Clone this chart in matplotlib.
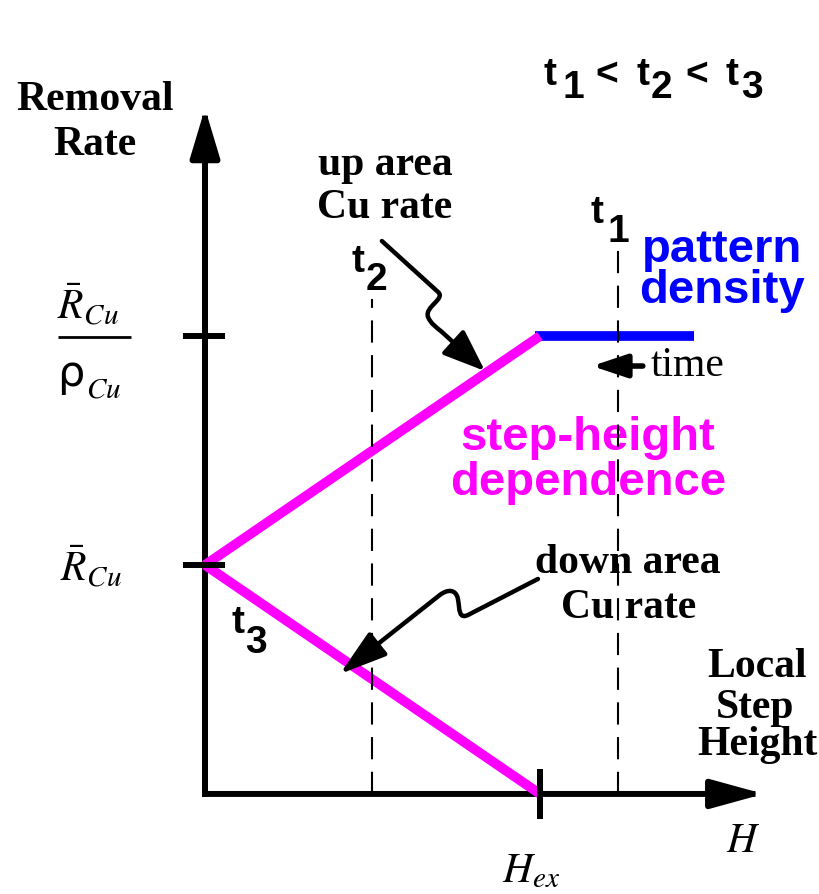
import matplotlib
matplotlib.use("Agg")
import matplotlib.pyplot as plt
from matplotlib.path import Path
from matplotlib.patches import FancyArrowPatch

# Normalised step-height model: H_ex = 1, blanket rate R_Cu = 1
h_ex = 1.0
rate_blanket = 1.0            # \bar R_Cu
rate_up_max = 2.0             # \bar R_Cu / rho_Cu
up_h = [0.0, h_ex]
up_rate = [rate_blanket, rate_up_max]
down_h = [0.0, h_ex]
down_rate = [rate_blanket, 0.0]
pattern_h = [0.985, 1.46]
pattern_rate = [rate_up_max, rate_up_max]
time_marks = ["1", "2"]
time_h = [1.233, 0.5]
time_top = [2.40, 2.16]
rate_ticks = [rate_blanket, rate_up_max]
h_axis_end = 1.668
rate_axis_end = 2.995

MAGENTA = "#FF00FF"
BLUE = "#0000FF"
SERIF = "Liberation Serif"
SANS = "Liberation Sans"
plt.rcParams["mathtext.fontset"] = "stix"
plt.rcParams["lines.scale_dashes"] = False

fig = plt.figure(figsize=(8.19, 8.95), dpi=100)
ax = fig.add_axes([0, 0, 1, 1])
ax.set_xlim(-0.612, 1.833)
ax.set_ylim(-0.437, 3.472)
ax.axis("off")

# axes with arrow heads
ax.annotate("", xy=(0, rate_axis_end), xytext=(0, 0),
            arrowprops=dict(arrowstyle="-|>,head_length=3.0,head_width=0.9",
                            mutation_scale=10, lw=4.3, color="k",
                            shrinkA=0, shrinkB=0, capstyle="projecting"),
            zorder=2)
ax.annotate("", xy=(h_axis_end, 0), xytext=(0, 0),
            arrowprops=dict(arrowstyle="-|>,head_length=3.2,head_width=0.88",
                            mutation_scale=10, lw=4.3, color="k",
                            shrinkA=0, shrinkB=0, capstyle="projecting"),
            zorder=2)

# rate ticks and H_ex tick
for r in rate_ticks:
    ax.plot([-0.066, 0.06], [r, r], color="k", lw=4.3, solid_capstyle="butt", zorder=5)
ax.plot([h_ex, h_ex], [-0.11, 0.11], color="k", lw=4.3, solid_capstyle="butt", zorder=5)

# removal-rate curves
ax.plot(up_h, up_rate, color=MAGENTA, lw=7, solid_capstyle="butt", zorder=3)
ax.plot(down_h, down_rate, color=MAGENTA, lw=7, solid_capstyle="butt", zorder=3)
ax.plot(pattern_h, pattern_rate, color=BLUE, lw=7, solid_capstyle="butt", zorder=2.5)

# time snapshots
for h, top in zip(time_h, time_top):
    ax.plot([h, h], [0, top], color="k", lw=1.5, dashes=(16, 9), zorder=4)


def t_label(x, y, digit, dx=17, dy=18, size=28):
    ax.text(x, y, "t", fontsize=size, fontweight="bold", family=SANS,
            ha="left", va="baseline", zorder=6)
    ax.annotate(digit, xy=(x, y), xytext=(dx, -dy), textcoords="offset pixels",
                fontsize=size, fontweight="bold", family=SANS,
                ha="left", va="baseline", zorder=6)


# t1 < t2 < t3
t_label(1.012, 3.100, "1", dx=19, dy=13)
ax.text(1.165, 3.100, "<", fontsize=28, fontweight="bold", family=SANS, ha="left", va="baseline")
t_label(1.287, 3.100, "2", dx=15, dy=13)
ax.text(1.434, 3.100, "<", fontsize=28, fontweight="bold", family=SANS, ha="left", va="baseline")
t_label(1.555, 3.100, "3", dx=15, dy=13)

t_label(0.436, 2.284, "2", dx=15, dy=18)
t_label(1.152, 2.498, "1", dx=17, dy=19)
t_label(0.078, 0.707, "3", dx=14, dy=20)

# bold serif labels
serif_bold = dict(fontsize=30, fontweight="bold", family=SERIF, ha="center", va="baseline")
ax.text(-0.328, 2.991, "Removal", **serif_bold)
ax.text(-0.328, 2.795, "Rate", **serif_bold)
ax.text(0.537, 2.707, "up area", **serif_bold)
ax.text(0.537, 2.520, "Cu rate", **serif_bold)
ax.text(1.263, 0.969, "down area", **serif_bold)
ax.text(1.266, 0.773, "Cu rate", **serif_bold)
ax.text(1.648, 0.515, "Local", **serif_bold)
ax.text(1.642, 0.336, "Step", **serif_bold)
ax.text(1.648, 0.175, "Height", **serif_bold)

ax.text(1.331, 1.830, "time", fontsize=30, family=SERIF, ha="left", va="baseline")
ax.annotate("", xy=(1.155, 1.869), xytext=(1.307, 1.869),
            arrowprops=dict(arrowstyle="-|>,head_length=2.1,head_width=0.7",
                            mutation_scale=10, lw=4, color="k", shrinkA=0, shrinkB=0))

# coloured sans labels
sans_bold = dict(fontsize=34, fontweight="bold", family=SANS, ha="center", va="baseline")
ax.text(1.543, 2.328, "pattern", color=BLUE, **sans_bold)
ax.text(1.543, 2.150, "density", color=BLUE, **sans_bold)
ax.text(1.143, 1.507, "step-height", color=MAGENTA, **sans_bold)
ax.text(1.143, 1.310, "dependence", color=MAGENTA, **sans_bold)

# rate axis values
ax.text(-0.442, 2.074, r"$\bar{R}_{Cu}$", fontsize=30, ha="left", va="baseline")
ax.plot([-0.439, -0.221], [1.996, 1.996], color="k", lw=2, solid_capstyle="butt")
ax.text(-0.442, 1.786, "ρ", fontsize=31, family="DejaVu Sans", ha="left", va="baseline")
ax.text(-0.355, 1.734, r"$Cu$", fontsize=21, ha="left", va="baseline")
ax.text(-0.433, 0.930, r"$\bar{R}_{Cu}$", fontsize=30, ha="left", va="baseline")

# step-height axis values
ax.text(0.888, -0.380, r"$H_{ex}$", fontsize=30, ha="left", va="baseline")
ax.text(1.556, -0.249, r"$H$", fontsize=30, ha="left", va="baseline")

# wavy pointer arrows
C4, L, M = Path.CURVE4, Path.LINETO, Path.MOVETO
up_path = Path(
    [(0.528, 2.415), (0.696, 2.192),
     (0.719, 2.162), (0.654, 2.127), (0.666, 2.083),
     (0.675, 2.052), (0.690, 2.039), (0.704, 2.022),
     (0.836, 1.847)],
    [M, L, C4, C4, C4, C4, C4, C4, L])
ax.add_patch(FancyArrowPatch(path=up_path,
                             arrowstyle="-|>,head_length=2.6,head_width=1.0",
                             mutation_scale=10, lw=3.2, color="k", zorder=6))

down_path = Path(
    [(0.994, 0.939), (0.791, 0.786),
     (0.755, 0.755), (0.761, 0.808), (0.755, 0.852),
     (0.749, 0.895), (0.725, 0.895), (0.701, 0.869),
     (0.403, 0.524)],
    [M, L, C4, C4, C4, C4, C4, C4, L])
ax.add_patch(FancyArrowPatch(path=down_path,
                             arrowstyle="-|>,head_length=2.9,head_width=0.9",
                             mutation_scale=10, lw=3.2, color="k", zorder=6))

fig.savefig("out.png", dpi=100)
